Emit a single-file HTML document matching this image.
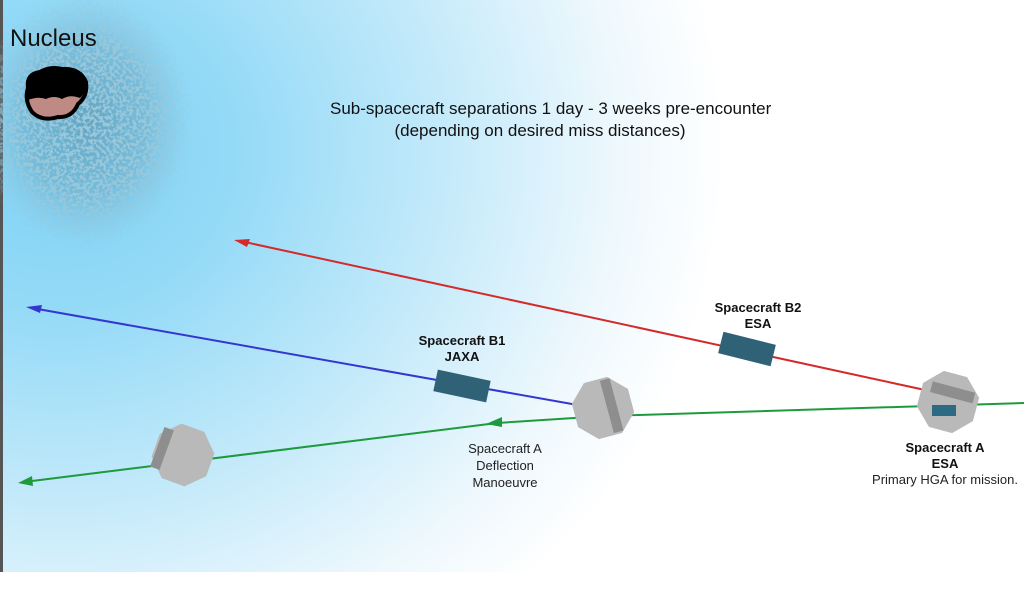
<!DOCTYPE html>
<html><head><meta charset="utf-8"><style>
html,body{margin:0;padding:0;}
body{width:1024px;height:600px;overflow:hidden;position:relative;background:#fff;font-family:"Liberation Sans",sans-serif;}
#bg{position:absolute;left:0;top:0;width:1024px;height:600px;
background:radial-gradient(ellipse 700px 640px at 60px 150px,#7ed2f5 0%,#94daf7 25%,#c4eafa 55%,#eef8fd 80%,#ffffff 95%);}
.t{position:absolute;color:#111;text-align:center;white-space:nowrap;}
</style></head><body>
<div id="bg"></div>
<div style="position:absolute;left:0;top:0;width:3px;height:600px;background:#555"></div>
<div style="position:absolute;left:0;top:572px;width:1024px;height:28px;background:#fff"></div>
<svg width="1024" height="600" style="position:absolute;left:0;top:0">
<defs>
<filter id="n" x="0" y="0" width="100%" height="100%">
<feTurbulence type="fractalNoise" baseFrequency="0.3" numOctaves="2" seed="3"/>
<feColorMatrix type="matrix" values="0 0 0 0 0.33  0 0 0 0 0.58  0 0 0 0 0.7  0 0 0 8 -3.6"/>
</filter>
<radialGradient id="cg"><stop offset="0" stop-color="#fff" stop-opacity="1"/><stop offset="0.65" stop-color="#fff" stop-opacity="0.9"/><stop offset="1" stop-color="#fff" stop-opacity="0"/></radialGradient>
<mask id="m"><ellipse cx="85" cy="120" rx="110" ry="130" fill="url(#cg)"/></mask>
<radialGradient id="cd"><stop offset="0" stop-color="#5d9dba" stop-opacity="0.85"/><stop offset="0.6" stop-color="#67a8c6" stop-opacity="0.55"/><stop offset="1" stop-color="#7fc4e3" stop-opacity="0"/></radialGradient>
</defs>
<ellipse cx="85" cy="120" rx="105" ry="125" fill="url(#cd)"/>
<rect x="0" y="0" width="200" height="260" filter="url(#n)" mask="url(#m)"/>
<path d="M28 88 Q26 74 40 72 Q50 66 62 69 Q80 68 86 82 Q88 96 78 104 Q72 118 58 117 Q42 122 32 112 Q24 100 28 88Z" fill="#c08a84" stroke="#000" stroke-width="4"/>
<path d="M28 88 Q26 74 40 72 Q50 66 62 69 Q80 68 86 82 Q86 92 80 98 Q70 94 62 99 Q54 95 46 99 Q38 96 28 100Z" fill="#000"/>
<g stroke-width="2" fill="none">
<line x1="925" y1="390" x2="240" y2="241" stroke="#d42a2a"/>
<polygon points="234,240 250,239 247,247" fill="#d42a2a" stroke="none"/>
<line x1="600" y1="409" x2="32" y2="308" stroke="#3535d0"/>
<polygon points="26,307 42,305 40,313" fill="#3535d0" stroke="none"/>
<polyline points="1024,403 605,416 497,423 24,482" stroke="#1e9a3e"/>
<polygon points="18,483 32,476 33,486" fill="#1e9a3e" stroke="none"/>
<polygon points="486,424 502,417 502,427" fill="#1e9a3e" stroke="none"/>
</g>
<g transform="translate(462,386) rotate(12)"><rect x="-27" y="-11" width="54" height="22" fill="#2f6177"/></g>
<g transform="translate(747,349) rotate(14)"><rect x="-27" y="-11" width="54" height="22" fill="#2f6177"/></g>
<g transform="translate(603,408) rotate(-15)"><polygon points="-12,-29 12,-29 29,-12 29,12 12,29 -12,29 -29,12 -29,-12" fill="#b9b9b9"/><rect x="4" y="-27" width="10" height="54" fill="#8e8e8e"/></g>
<g transform="translate(183,455) rotate(20)"><polygon points="-12,-29 12,-29 29,-12 29,12 12,29 -12,29 -29,12 -29,-12" fill="#b9b9b9"/><rect x="-27" y="-20" width="10" height="42" fill="#8e8e8e"/></g>
<g transform="translate(948,402) rotate(15)"><polygon points="-12,-29 12,-29 29,-12 29,12 12,29 -12,29 -29,12 -29,-12" fill="#b9b9b9"/><rect x="-20" y="-16" width="44" height="11" fill="#8e8e8e"/><rect x="-16" y="3" width="24" height="11" fill="#2d6a84" transform="rotate(-15)"/></g>
</svg>
<div class="t" style="left:10px;top:25px;font-size:24px;">Nucleus</div>
<div class="t" style="left:330px;top:98px;width:420px;font-size:17px;line-height:22px;">Sub-spacecraft separations 1 day - 3 weeks pre-encounter<br>(depending on desired miss distances)</div>
<div class="t" style="left:397px;top:333px;width:130px;font-size:13px;font-weight:bold;line-height:16px;">Spacecraft B1<br>JAXA</div>
<div class="t" style="left:693px;top:300px;width:130px;font-size:13px;font-weight:bold;line-height:16px;">Spacecraft B2<br>ESA</div>
<div class="t" style="left:440px;top:440px;width:130px;font-size:13px;line-height:17px;color:#222;">Spacecraft A<br>Deflection<br>Manoeuvre</div>
<div class="t" style="left:880px;top:440px;width:130px;font-size:13px;font-weight:bold;line-height:16px;">Spacecraft A<br>ESA</div>
<div class="t" style="left:860px;top:472px;width:170px;font-size:13px;color:#222;">Primary HGA for mission.</div>
</body></html>
